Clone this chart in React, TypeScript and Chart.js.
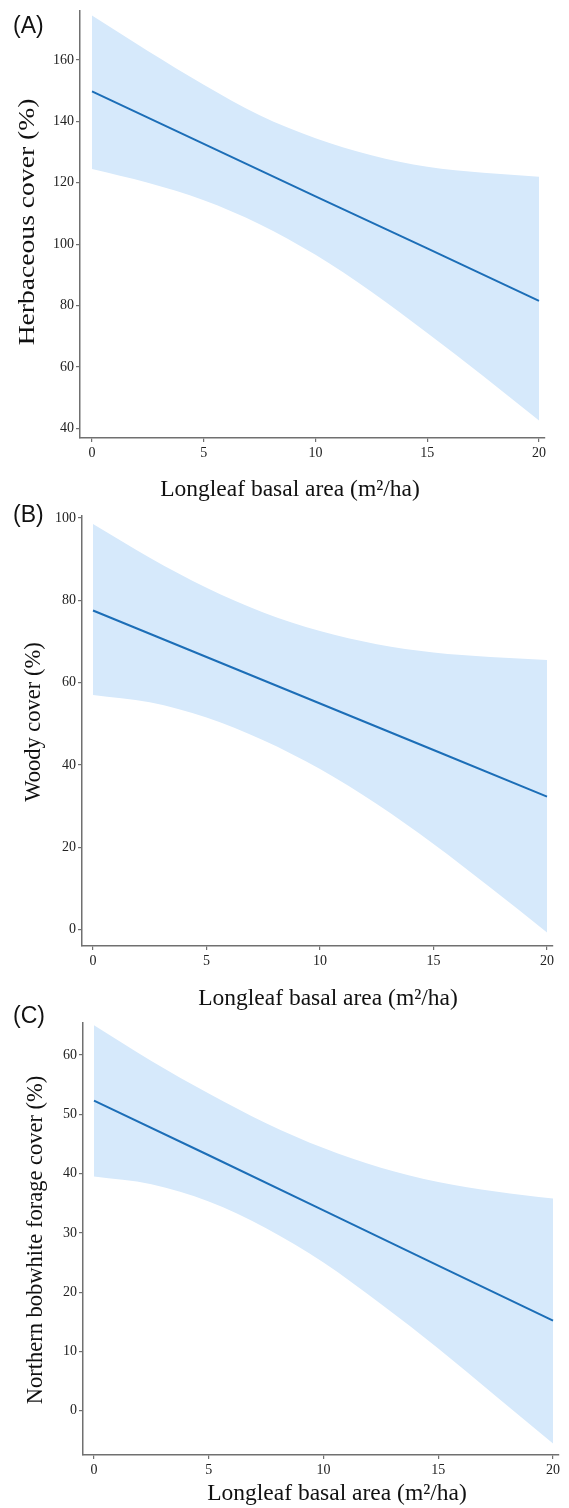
import React, { useEffect, useRef } from "react";
import { Chart, registerables } from "chart.js";
Chart.register(...registerables);

// ---- data ----
const xTicks = [0, 5, 10, 15, 20];
const bandX = [0, 2.5, 5, 7.5, 10, 12.5, 15, 17.5, 20];
const fitX = [0, 5, 10, 15, 20];

const herbFit = [149.8, 132.7, 115.6, 98.6, 81.5];
const herbUpper = [174.5, 163, 152, 142, 134.5, 129, 125.2, 123.3, 122];
const herbLower = [124.5, 120, 114.3, 106.5, 96.5, 84.5, 71, 57, 42.5];
const herbTicks = [40, 60, 80, 100, 120, 140, 160];

const woodFit = [77.5, 66.2, 54.9, 43.6, 32.3];
const woodUpper = [98.5, 90.3, 83, 77, 72.5, 69.3, 67.3, 66.2, 65.5];
const woodLower = [57, 55.2, 51.5, 46, 39, 30.5, 20.8, 10.2, -0.7];
const woodTicks = [0, 20, 40, 60, 80, 100];

const forageFit = [52.3, 43.1, 33.8, 24.5, 15.2];
const forageUpper = [65, 59, 53.5, 48.5, 44.3, 41, 38.6, 37, 35.8];
const forageLower = [39.5, 38.2, 35.3, 30.8, 25, 18, 10.5, 2.5, -5.5];
const forageTicks = [0, 10, 20, 30, 40, 50, 60];

const xTitle = "Longleaf basal area (m\u00B2/ha)";

const W = 569;
const serif = "'Liberation Serif', 'Times New Roman', serif";
const bandColor = "rgb(214,233,251)";
const lineColor = "rgb(28,110,183)";
const axisColor = "#707070";

type PanelCfg = {
  label: string;
  labelTop: number;
  yTitle: string;
  fit: number[];
  upper: number[];
  lower: number[];
  yTicks: number[];
  top: number;
  height: number;
  areaLeft: number;
  areaRight: number;
  areaTop: number;
  areaBottom: number;
  xmin: number;
  xmax: number;
  ymin: number;
  ymax: number;
  xTitleX: number;
  xTitleY: number;
  xTitleSize: number;
  yTitleX: number;
  yTitleY: number;
  yTitleSize: number;
  yTitleStretch: number;
};

const panels: PanelCfg[] = [
  {
    label: "(A)", labelTop: 11, yTitle: "Herbaceous cover (%)",
    fit: herbFit, upper: herbUpper, lower: herbLower, yTicks: herbTicks,
    top: 0, height: 505, areaLeft: 80, areaRight: 545, areaTop: 8, areaBottom: 438,
    xmin: -0.537, xmax: 20.268, ymin: 36.8, ymax: 176.2,
    xTitleX: 290, xTitleY: 490, xTitleSize: 23.5,
    yTitleX: 28, yTitleY: 222, yTitleSize: 23, yTitleStretch: 1.2,
  },
  {
    label: "(B)", labelTop: 500, yTitle: "Woody cover (%)",
    fit: woodFit, upper: woodUpper, lower: woodLower, yTicks: woodTicks,
    top: 505, height: 507, areaLeft: 82, areaRight: 553, areaTop: 505, areaBottom: 946,
    xmin: -0.485, xmax: 20.264, ymin: -4, ymax: 100.6,
    xTitleX: 328, xTitleY: 999, xTitleSize: 23.5,
    yTitleX: 34, yTitleY: 722, yTitleSize: 22.5, yTitleStretch: 1,
  },
  {
    label: "(C)", labelTop: 1001, yTitle: "Northern bobwhite forage cover (%)",
    fit: forageFit, upper: forageUpper, lower: forageLower, yTicks: forageTicks,
    top: 1012, height: 496, areaLeft: 83, areaRight: 559, areaTop: 1015, areaBottom: 1455,
    xmin: -0.479, xmax: 20.261, ymin: -7.45, ymax: 65.5,
    xTitleX: 337, xTitleY: 1494, xTitleSize: 23.5,
    yTitleX: 36, yTitleY: 1240, yTitleSize: 22.5, yTitleStretch: 1,
  },
];

function Panel({ p }: { p: PanelCfg }) {
  const ref = useRef<HTMLCanvasElement | null>(null);
  useEffect(() => {
    if (!ref.current) return;
    const titlesPlugin = {
      id: "axisTitles",
      afterDraw(chart: any) {
        const ctx = chart.ctx as CanvasRenderingContext2D;
        ctx.save();
        ctx.fillStyle = "#111";
        ctx.textAlign = "center";
        ctx.textBaseline = "middle";
        ctx.font = `${p.xTitleSize}px ${serif}`;
        ctx.fillText(xTitle, p.xTitleX, p.xTitleY - p.top);
        ctx.translate(p.yTitleX, p.yTitleY - p.top);
        ctx.rotate(-Math.PI / 2);
        ctx.scale(p.yTitleStretch, 1);
        ctx.font = `${p.yTitleSize}px ${serif}`;
        ctx.fillText(p.yTitle, 0, 0);
        ctx.restore();
      },
    };
    const chart = new Chart(ref.current, {
      type: "line",
      data: {
        datasets: [
          {
            data: fitX.map((x, i) => ({ x, y: p.fit[i] })),
            borderWidth: 2,
            pointRadius: 0,
            borderColor: lineColor,
            fill: false,
            tension: 0,
          },
          {
            data: bandX.map((x, i) => ({ x, y: p.upper[i] })),
            borderWidth: 0,
            pointRadius: 0,
            backgroundColor: bandColor,
            borderColor: bandColor,
            fill: "+1",
            cubicInterpolationMode: "monotone",
          },
          {
            data: bandX.map((x, i) => ({ x, y: p.lower[i] })),
            borderWidth: 0,
            pointRadius: 0,
            backgroundColor: bandColor,
            borderColor: bandColor,
            fill: false,
            cubicInterpolationMode: "monotone",
          },
        ],
      },
      options: {
        animation: false,
        responsive: false,
        events: [],
        layout: {
          padding: { top: p.areaTop - p.top, right: W - p.areaRight, left: 0, bottom: 0 },
        },
        plugins: { legend: { display: false }, tooltip: { enabled: false } },
        scales: {
          x: {
            type: "linear",
            min: p.xmin,
            max: p.xmax,
            afterBuildTicks: (s: any) => {
              s.ticks = xTicks.map((v) => ({ value: v }));
            },
            afterFit: (s: any) => {
              s.height = p.top + p.height - p.areaBottom;
            },
            grid: { display: true, drawOnChartArea: false, drawTicks: true, tickLength: 4, color: axisColor, lineWidth: 1.2 },
            border: { display: true, color: axisColor, width: 1.5 },
            ticks: { color: "#222", font: { family: serif, size: 14 }, padding: 3, maxRotation: 0, autoSkip: false },
            title: { display: false },
          },
          y: {
            type: "linear",
            min: p.ymin,
            max: p.ymax,
            afterBuildTicks: (s: any) => {
              s.ticks = p.yTicks.map((v) => ({ value: v }));
            },
            afterFit: (s: any) => {
              s.width = p.areaLeft;
            },
            grid: { display: true, drawOnChartArea: false, drawTicks: true, tickLength: 4, color: axisColor, lineWidth: 1.2 },
            border: { display: true, color: axisColor, width: 1.5 },
            ticks: { color: "#222", font: { family: serif, size: 14 }, padding: 2, autoSkip: false },
            title: { display: false },
          },
        },
      },
      plugins: [titlesPlugin],
    } as any);
    return () => chart.destroy();
  }, [p]);
  return (
    <>
      <canvas
        ref={ref}
        width={W}
        height={p.height}
        style={{ position: "absolute", left: 0, top: p.top, width: W, height: p.height }}
      />
      <div
        style={{
          position: "absolute",
          left: 13,
          top: p.labelTop,
          fontFamily: "'Liberation Sans', Arial, sans-serif",
          fontSize: 23,
          lineHeight: "28px",
          color: "#111",
        }}
      >
        {p.label}
      </div>
    </>
  );
}

export default function App() {
  return (
    <div style={{ position: "absolute", left: 0, top: 0, width: W, height: 1508, background: "#fff" }}>
      {panels.map((p) => (
        <Panel key={p.label} p={p} />
      ))}
    </div>
  );
}
